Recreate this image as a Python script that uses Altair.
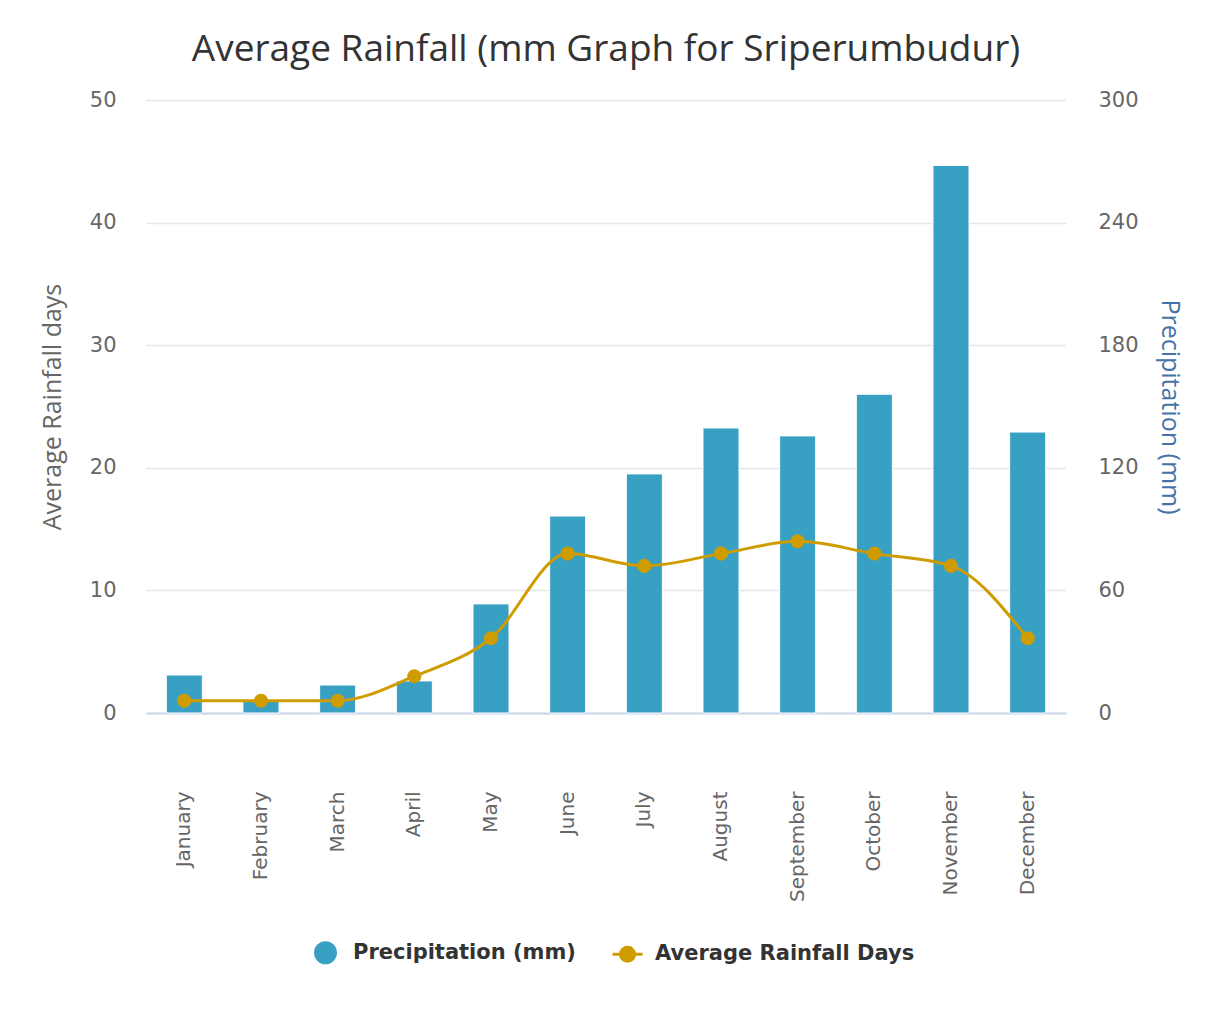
import altair as alt
import pandas as pd

months = ["January", "February", "March", "April", "May", "June", "July",
          "August", "September", "October", "November", "December"]
precip_mm = [18.6, 6, 13.7, 15.7, 53.4, 96.4, 117, 139.5, 135.6, 156, 268, 137.5]
rain_days = [1, 1, 1, 3, 6.1, 13, 12, 13, 14, 13, 12, 6.1]
series_names = ["Precipitation (mm)", "Average Rainfall Days"]

BLUE = "#38A0C2"
GOLD = "#CF9C00"

df = pd.DataFrame({"Month": months, "Precip": precip_mm, "Days": rain_days})
leg_df = pd.DataFrame({"Series": series_names})

color_scale = alt.Scale(domain=series_names, range=[BLUE, GOLD])
shape_scale = alt.Scale(
    domain=series_names,
    range=["circle",
           "M-1.5,0L1.5,0M-0.7,0A0.7,0.7 0 1 1 0.7,0A0.7,0.7 0 1 1 -0.7,0Z"])

x_enc = alt.X(
    "Month:N", sort=months, title=None,
    scale=alt.Scale(paddingInner=0.53, paddingOuter=0.265),
    axis=alt.Axis(labelAngle=-90, labelAlign="right", labelBaseline="middle",
                  labelPadding=78, ticks=False, domainColor="#CCD6EB",
                  domainWidth=2, labelFont="DejaVu Sans", labelFontSize=20,
                  labelColor="#666666", grid=False),
)

bars = alt.Chart(df).mark_bar(stroke="white", strokeWidth=1, color=BLUE).encode(
    x=x_enc,
    y=alt.Y("Precip:Q",
            scale=alt.Scale(domain=[0, 300], nice=False),
            axis=alt.Axis(orient="right", values=[0, 60, 120, 180, 240, 300],
                          title="Precipitation (mm)", titleAngle=90,
                          titleColor="#4572A7", titleFont="Open Sans",
                          titleFontSize=25, titleFontWeight="normal",
                          titlePadding=18, labelPadding=32, ticks=False,
                          domain=False, grid=False, labelFont="DejaVu Sans",
                          labelFontSize=21, labelColor="#666666",
                          labelAlign="left")),
)

line = alt.Chart(df).mark_line(
    interpolate="monotone", strokeWidth=3, color=GOLD,
    point=alt.OverlayMarkDef(filled=True, size=200, color=GOLD, opacity=1),
).encode(
    x=x_enc,
    y=alt.Y("Days:Q",
            scale=alt.Scale(domain=[0, 50], nice=False),
            axis=alt.Axis(orient="left", values=[0, 10, 20, 30, 40, 50],
                          title="Average Rainfall days", titleColor="#666666",
                          titleFont="Open Sans", titleFontSize=25,
                          titleFontWeight="normal", titlePadding=24,
                          labelPadding=30, ticks=False, domain=False,
                          grid=True, gridColor="#E6E6E6", gridWidth=1.5,
                          labelFont="DejaVu Sans", labelFontSize=21,
                          labelColor="#666666")),
)

legend_layer = alt.Chart(leg_df).mark_point(filled=True, size=0, opacity=1, strokeWidth=3).encode(
    fill=alt.Fill("Series:N", scale=color_scale, title=None, sort=series_names,
                  legend=alt.Legend(
                      orient="none", legendX=168, legendY=841,
                      direction="horizontal",
                      symbolSize=400, symbolStrokeWidth=3, symbolOpacity=1,
                      labelFont="DejaVu Sans", labelFontSize=21, labelLimit=0,
                      labelFontWeight="bold", labelColor="#333333",
                      columnPadding=30, labelOffset=16)),
    stroke=alt.Stroke("Series:N", scale=color_scale, title=None, sort=series_names),
    shape=alt.Shape("Series:N", scale=shape_scale, title=None, sort=series_names),
)

chart = alt.layer(bars, line, legend_layer).resolve_scale(y="independent").properties(
    width=920, height=613,
    background="white",
    title=alt.TitleParams("Average Rainfall (mm Graph for Sriperumbudur)",
                          font="Open Sans", fontSize=37, fontWeight="normal",
                          color="#333333", offset=20, anchor="middle"),
    padding={"left": 32, "top": 23, "right": 20, "bottom": 10},
).configure_view(stroke=None)

chart.save("out.html", embed_options={"renderer": "svg", "actions": False})
